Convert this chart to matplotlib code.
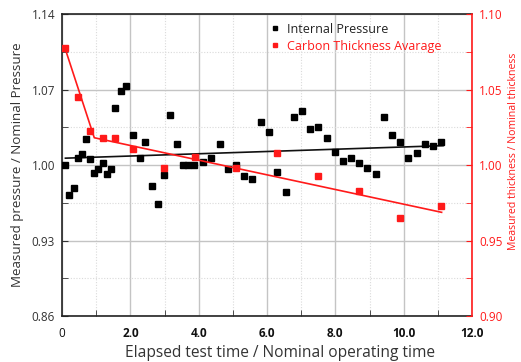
import matplotlib
matplotlib.use("Agg")
import matplotlib.pyplot as plt
from matplotlib.ticker import MultipleLocator, FixedLocator
import numpy as np

# Internal pressure (left axis)
pressure_x = [0.09, 0.21, 0.35, 0.46, 0.58, 0.69, 0.82, 0.94, 1.06, 1.19, 1.31, 1.42,
              1.54, 1.74, 1.88, 2.09, 2.27, 2.44, 2.62, 2.81, 2.98, 3.17, 3.36, 3.53,
              3.70, 3.86, 4.14, 4.37, 4.61, 4.85, 5.09, 5.34, 5.57, 5.81, 6.06, 6.30,
              6.55, 6.78, 7.01, 7.26, 7.49, 7.75, 7.98, 8.21, 8.46, 8.69, 8.94, 9.18,
              9.42, 9.65, 9.89, 10.13, 10.38, 10.62, 10.87, 11.10]
pressure_y = [1.000, 0.972, 0.979, 1.007, 1.010, 1.024, 1.006, 0.993, 0.996, 1.002, 0.992, 0.996,
              1.053, 1.069, 1.073, 1.028, 1.007, 1.021, 0.981, 0.964, 0.991, 1.046, 1.020, 1.000,
              1.000, 1.000, 1.003, 1.007, 1.020, 0.996, 1.000, 0.990, 0.987, 1.040, 1.031, 0.994,
              0.975, 1.045, 1.050, 1.033, 1.035, 1.025, 1.012, 1.004, 1.007, 1.002, 0.997, 0.992,
              1.045, 1.028, 1.021, 1.007, 1.011, 1.020, 1.018, 1.021]
pressure_trend_x = [0.10, 11.15]
pressure_trend_y = [1.0064, 1.0180]

# Carbon thickness average (right axis)
thickness_x = [0.09, 0.46, 0.81, 1.19, 1.54, 2.08, 2.98, 3.89, 5.09, 6.28, 7.49, 8.69, 9.89, 11.09]
thickness_y = [1.0773, 1.045, 1.0225, 1.0177, 1.0177, 1.0104, 0.9978, 1.0053, 0.998, 1.0077,
               0.9927, 0.9826, 0.9651, 0.9728]
thickness_trend_x = [0.09, 0.945, 11.11]
thickness_trend_y = [1.0773, 1.0181, 0.9687]

x_ticks = [0, 2, 4, 6, 8, 10, 12]
x_tick_labels = ["0", "2.0", "4.0", "6.0", "8.0", "10.0", "12.0"]
left_ticks = [0.86, 0.93, 1.00, 1.07, 1.14]
right_ticks = [0.90, 0.95, 1.00, 1.05, 1.10]

RED = "#ff1a1a"
GRAY_TXT = "#333333"

plt.rcParams['font.family'] = ['Open Sans', 'DejaVu Sans']

fig = plt.figure(figsize=(5.21, 3.62), dpi=100)
ax = fig.add_axes([0.119, 0.127, 0.787, 0.834])
ax2 = ax.twinx()

ax.set_xlim(0, 12)
ax.set_ylim(0.86, 1.14)
ax2.set_ylim(0.90, 1.10)

# grid
ax.xaxis.set_major_locator(FixedLocator(x_ticks))
ax.xaxis.set_minor_locator(MultipleLocator(1))
ax.yaxis.set_major_locator(FixedLocator(left_ticks))
ax.yaxis.set_minor_locator(FixedLocator([0.895, 0.965, 1.035, 1.105]))
ax.grid(True, which='major', color='#c4c4c4', lw=1.0, zorder=0)
ax.grid(True, which='minor', color='#dadada', lw=0.8, ls=(0, (1, 1.5)), zorder=0)
ax.set_axisbelow(True)

ax.set_xticklabels(x_tick_labels)
for lbl in ax.get_xticklabels():
    if lbl.get_text() != "0":
        lbl.set_fontweight('bold')
ax.set_yticklabels([f"{v:.2f}" for v in left_ticks])

ax.tick_params(axis='both', which='both', direction='in', colors='#333333',
               labelsize=8.5, labelcolor=GRAY_TXT)
ax.tick_params(axis='both', which='major', length=0, pad=5)
ax.tick_params(axis='y', which='major', length=4)
ax.tick_params(axis='both', which='minor', length=4)
ax.tick_params(axis='x', which='major', labelcolor='#111111', pad=8)
ax.tick_params(axis='x', which='minor', length=4)

ax2.yaxis.set_major_locator(FixedLocator(right_ticks))
ax2.yaxis.set_minor_locator(FixedLocator([0.925, 0.975, 1.025, 1.075]))
ax2.set_yticklabels([f"{v:.2f}" for v in right_ticks])
ax2.tick_params(axis='y', which='both', direction='in', colors=RED, labelsize=8.5,
                labelcolor=RED, length=4, pad=5)

for s in ['left', 'bottom', 'top']:
    ax.spines[s].set_color('#222222')
    ax.spines[s].set_linewidth(1.2)
ax.spines['right'].set_visible(False)
ax2.spines['right'].set_color(RED)
ax2.spines['right'].set_linewidth(1.2)
for s in ['left', 'bottom', 'top']:
    ax2.spines[s].set_visible(False)

# data
ax.plot(pressure_trend_x, pressure_trend_y, color='#111111', lw=1.2, zorder=3)
ax.plot(pressure_x, pressure_y, ls='none', marker='s', ms=4.2, color='black',
        label='Internal Pressure', zorder=4)
ax2.plot(thickness_trend_x, thickness_trend_y, color=RED, lw=1.2, zorder=3)
ax2.plot(thickness_x, thickness_y, ls='none', marker='s', ms=4.2, color=RED,
         label='Carbon Thickness Avarage', zorder=4)

ax.set_xlabel("Elapsed test time / Nominal operating time", fontsize=11.2, color=GRAY_TXT,
              labelpad=3)
ax.xaxis.set_label_coords(0.532, -0.095)
ax.set_ylabel("Measured pressure / Nominal Pressure", fontsize=9.6, color=GRAY_TXT, labelpad=5)
fig.text(513 / 521, 1 - 151 / 362, "Measured thickness / Nominal thickness", rotation=90,
         ha='center', va='center', fontsize=7.6, color=RED)

h1, l1 = ax.get_legend_handles_labels()
h2, l2 = ax2.get_legend_handles_labels()
leg = ax2.legend(h1 + h2, l1 + l2, loc='upper left', bbox_to_anchor=(0.49, 1.0),
                 frameon=False, fontsize=9, handlelength=0.6, handletextpad=0.6,
                 borderaxespad=0.3, labelspacing=0.3, markerscale=0.8)
leg.get_texts()[0].set_color('#222222')
leg.get_texts()[1].set_color(RED)

fig.savefig("out.png", dpi=100)
